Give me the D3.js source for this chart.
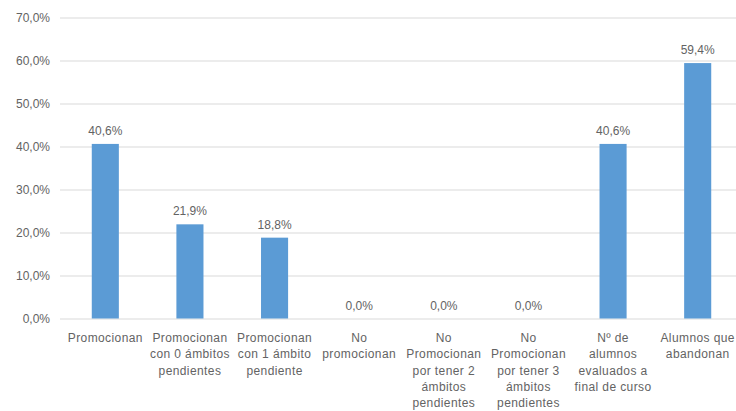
<!DOCTYPE html>
<html>
<head>
<meta charset="utf-8">
<script src="https://cdn.jsdelivr.net/npm/d3@7"></script>
<style>
  body { margin: 0; background: #fff; }
  text { font-family: "Liberation Sans", Arial, sans-serif; fill: #636363; }
</style>
</head>
<body>
<div id="chart"></div>
<script>
// Categories (line breaks as in the original axis)
var categories = [
    "Promocionan",
    "Promocionan\ncon 0 ámbitos\npendientes",
    "Promocionan\ncon 1 ámbito\npendiente",
    "No\npromocionan",
    "No\nPromocionan\npor tener 2\námbitos\npendientes",
    "No\nPromocionan\npor tener 3\námbitos\npendientes",
    "Nº de\nalumnos\nevaluados a\nfinal de curso",
    "Alumnos que\nabandonan"
];
var values = [40.6, 21.9, 18.8, 0, 0, 0, 40.6, 59.4];
var yTicks = [0, 10, 20, 30, 40, 50, 60, 70];

var width = 736, height = 411;
var plotLeft = 60, plotRight = 736;

var fmt = function(v) { return v.toFixed(1).replace(".", ",") + "%"; };

var svg = d3.select("#chart")
    .append("svg")
    .attr("width", width)
    .attr("height", height);

var xScale = d3.scaleBand()
    .domain(d3.range(categories.length))
    .range([63, 740])
    .paddingInner(0.68)
    .paddingOuter(0.34);

var yScale = d3.scaleLinear()
    .domain([0, 70])
    .range([318.5, 17.5]);

// gridlines + y labels
var yAxis = d3.axisLeft(yScale)
    .tickValues(yTicks)
    .tickSize(-(plotRight - plotLeft))
    .tickPadding(10)
    .tickFormat(fmt);

var gy = svg.append("g")
    .attr("transform", "translate(" + plotLeft + ",0)")
    .call(yAxis);
gy.select(".domain").remove();
gy.selectAll(".tick line").attr("stroke", "#d9d9d9");
gy.selectAll(".tick text")
    .style("font-size", "12px")
    .attr("fill", "#636363");

// bars
svg.selectAll("rect.bar")
    .data(values)
    .enter()
    .append("rect")
    .attr("class", "bar")
    .attr("x", function(d, i) { return xScale(i); })
    .attr("y", function(d) { return yScale(d); })
    .attr("width", xScale.bandwidth())
    .attr("height", function(d) { return yScale(0) - yScale(d); })
    .attr("fill", "#5b9bd5");

// value labels
svg.selectAll("text.val")
    .data(values)
    .enter()
    .append("text")
    .attr("class", "val")
    .attr("x", function(d, i) { return xScale(i) + xScale.bandwidth() / 2; })
    .attr("y", function(d) { return yScale(d) - 9; })
    .attr("text-anchor", "middle")
    .style("font-size", "12px")
    .text(fmt);

// category labels
var cat = svg.selectAll("text.cat")
    .data(categories)
    .enter()
    .append("text")
    .attr("class", "cat")
    .attr("text-anchor", "middle")
    .style("font-size", "12px")
    .style("letter-spacing", "0.4px")
    .attr("transform", function(d, i) {
        return "translate(" + (xScale(i) + xScale.bandwidth() / 2) + "," + 342 + ")";
    });

cat.selectAll("tspan")
    .data(function(d) { return d.split("\n"); })
    .enter()
    .append("tspan")
    .attr("x", 0)
    .attr("y", function(d, j) { return j * 16.3; })
    .text(function(d) { return d; });
</script>
</body>
</html>
